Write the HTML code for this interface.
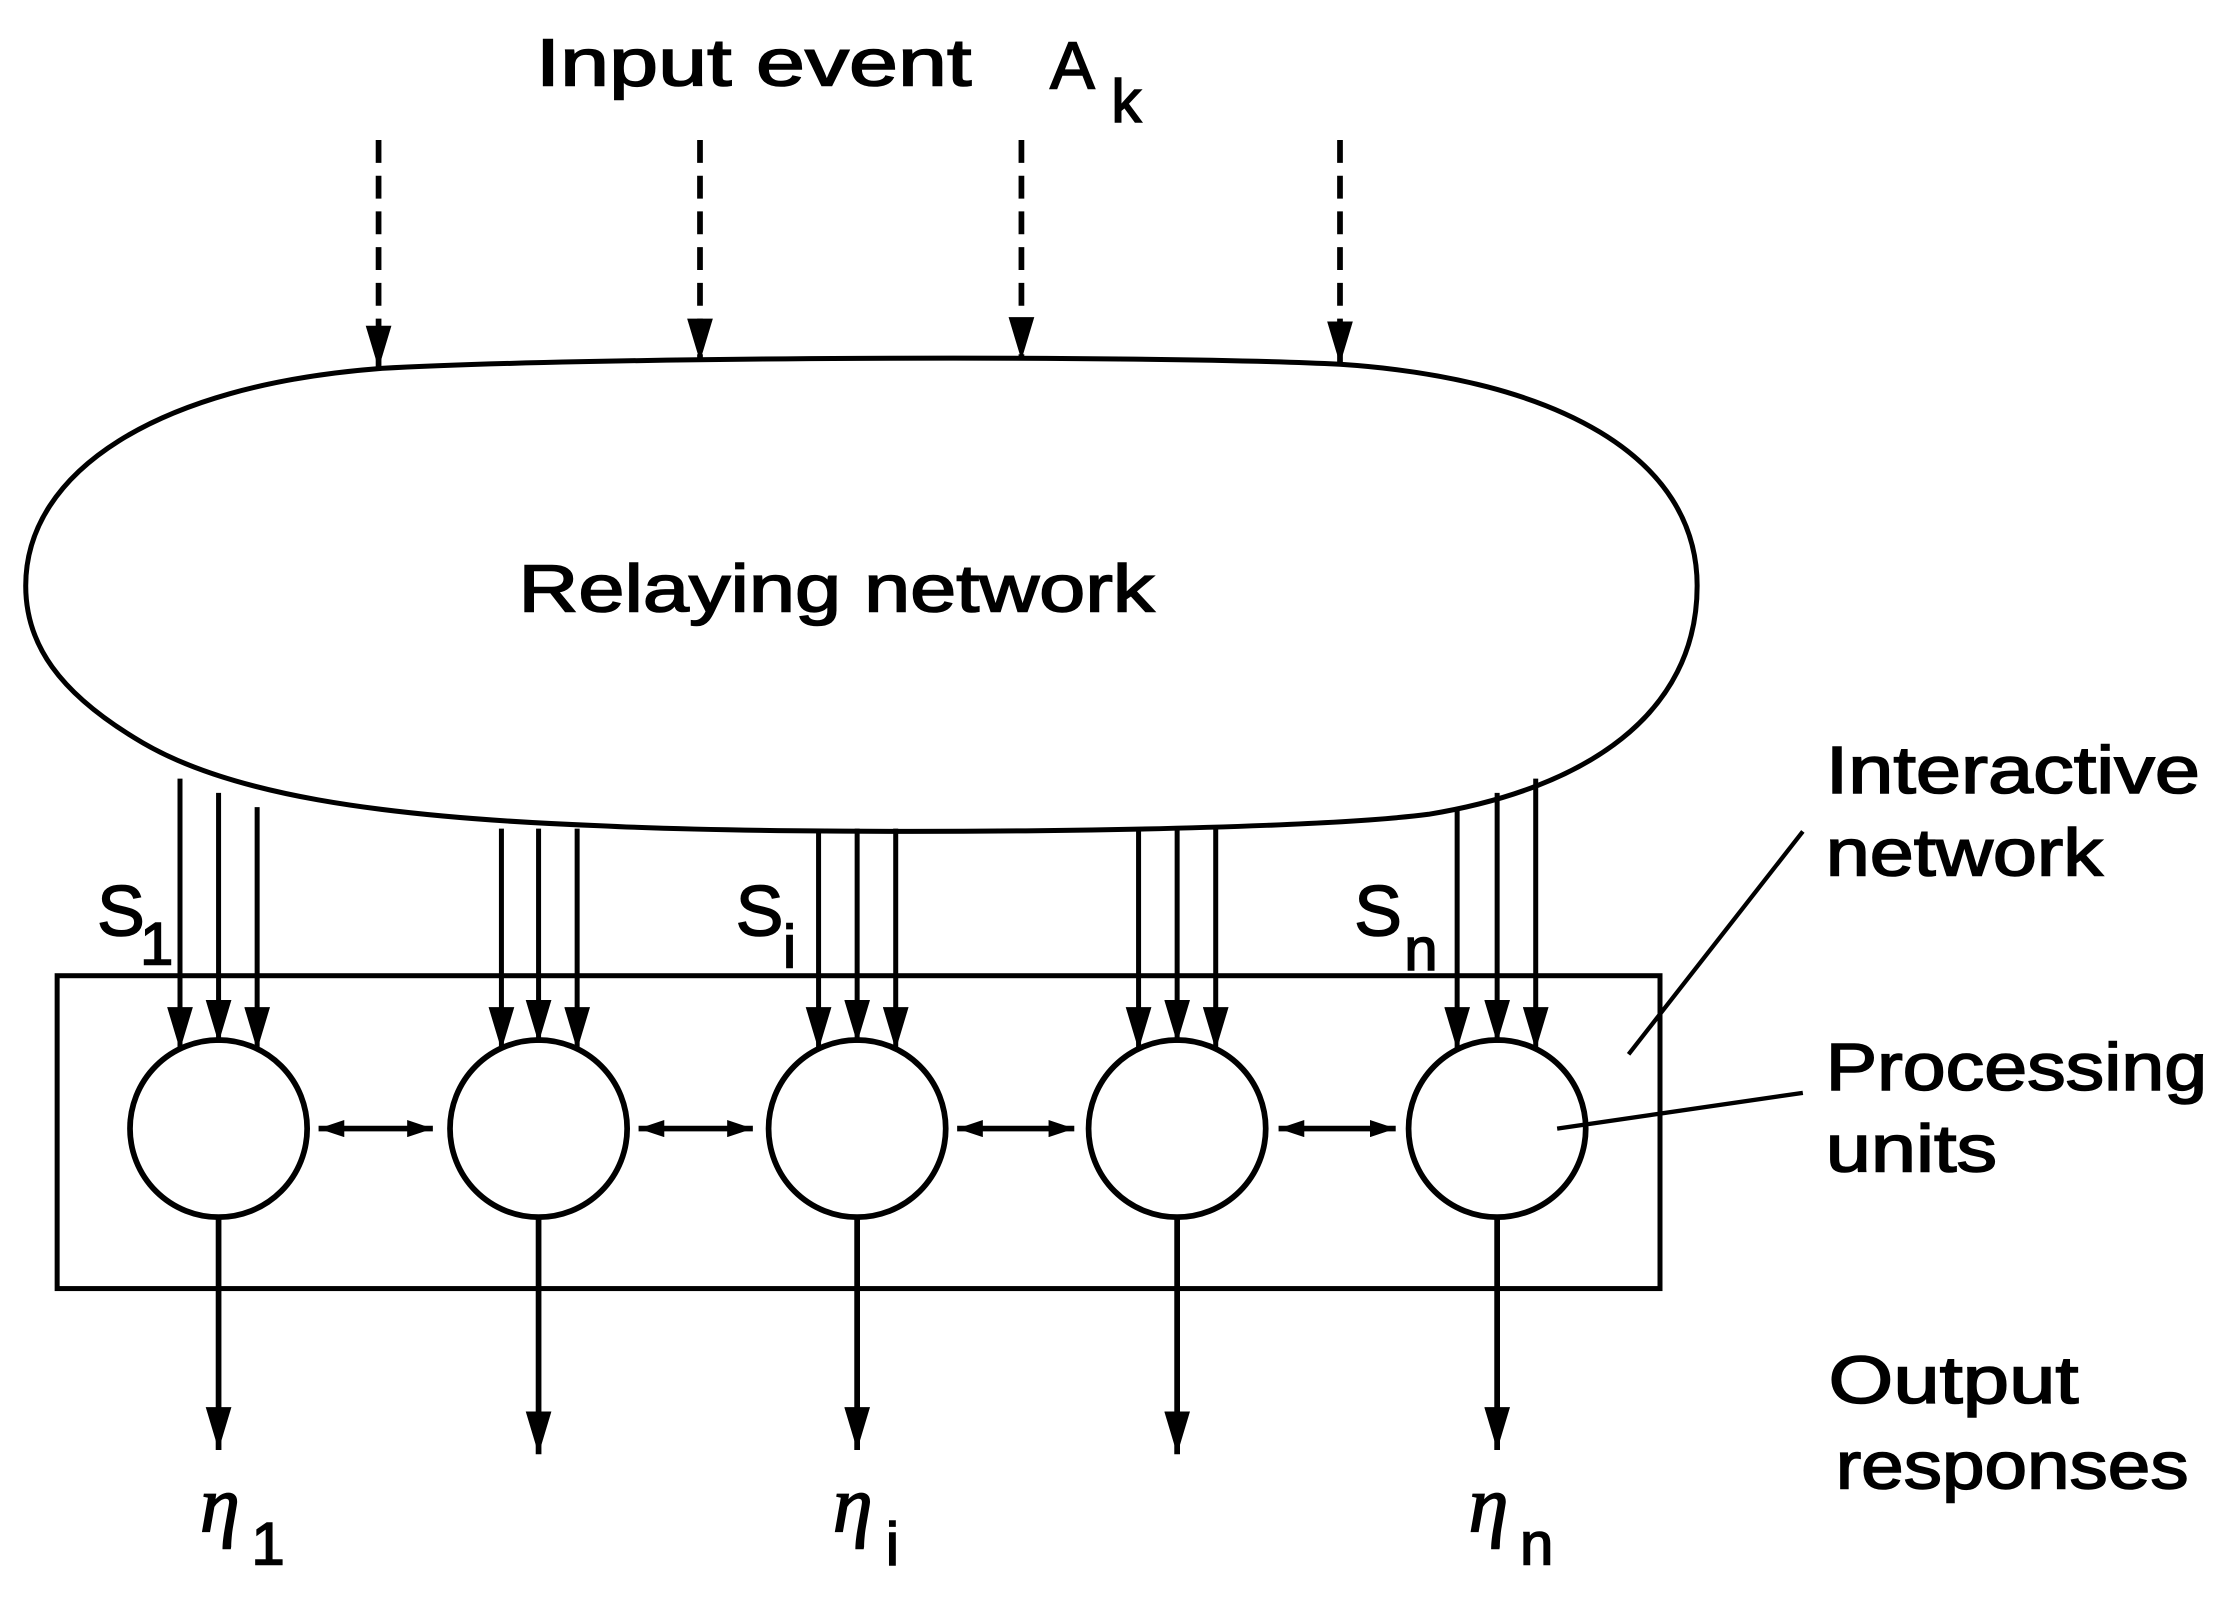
<!DOCTYPE html>
<html><head><style>html,body{margin:0;padding:0;background:#fff}svg{display:block}</style></head>
<body>
<svg width="2240" height="1600" viewBox="0 0 1568 1120" xmlns="http://www.w3.org/2000/svg">
<defs>
<marker id="ahb" markerWidth="30" markerHeight="18" refX="30" refY="9" orient="auto" markerUnits="userSpaceOnUse">
<path d="M0,0 L30,9 L0,18 Z" fill="#000"/></marker>
<marker id="ahs" markerWidth="18" markerHeight="12" refX="18" refY="6" orient="auto-start-reverse" markerUnits="userSpaceOnUse">
<path d="M0,0 L18,6 L0,12 Z" fill="#000"/></marker>
</defs>
<g font-family="Liberation Sans, Arial, sans-serif" font-size="47" fill="#000" stroke="#000" stroke-width="1.1">
<text x="375" y="60" textLength="305" lengthAdjust="spacingAndGlyphs">Input  event</text>
<text x="735" y="62">A</text><text x="778" y="85" font-size="42">k</text>
<text x="363" y="428" textLength="445" lengthAdjust="spacingAndGlyphs">Relaying network</text>
<text x="68" y="655" font-size="50">S</text><text x="98" y="675" font-size="42">1</text>
<text x="515" y="655" font-size="50">S</text><text x="548" y="677" font-size="42">i</text>
<text x="948" y="655" font-size="50">S</text><text x="983" y="679" font-size="42">n</text>
<text x="140" y="1072" font-size="56" font-style="italic" font-family="Liberation Serif, serif">η</text><text x="176" y="1095" font-size="42">1</text>
<text x="583" y="1072" font-size="56" font-style="italic" font-family="Liberation Serif, serif">η</text><text x="620" y="1095" font-size="42">i</text>
<text x="1028" y="1072" font-size="56" font-style="italic" font-family="Liberation Serif, serif">η</text><text x="1064" y="1095" font-size="42">n</text>
<text x="1278" y="555" textLength="262" lengthAdjust="spacingAndGlyphs">Interactive</text>
<text x="1278" y="613" textLength="194" lengthAdjust="spacingAndGlyphs">network</text>
<text x="1278" y="763" textLength="267" lengthAdjust="spacingAndGlyphs">Processing</text>
<text x="1278" y="820" textLength="120" lengthAdjust="spacingAndGlyphs">units</text>
<text x="1280" y="982" textLength="175" lengthAdjust="spacingAndGlyphs">Output</text>
<text x="1285" y="1042" textLength="247" lengthAdjust="spacingAndGlyphs">responses</text>
</g>
<g stroke="#000" stroke-width="4" fill="none">
<g stroke-dasharray="16,9">
<line x1="265" y1="98" x2="265" y2="258" marker-end="url(#ahb)"/>
<line x1="490" y1="98" x2="490" y2="253" marker-end="url(#ahb)"/>
<line x1="715" y1="98" x2="715" y2="252" marker-end="url(#ahb)"/>
<line x1="938" y1="98" x2="938" y2="255" marker-end="url(#ahb)"/>
</g>
<path d="M265,258 C400,250 800,248 938,255 C1090,265 1188,320 1188,410 C1188,500 1110,552 1000,570 C900,583 560,585 420,578 C260,572 160,555 100,520 C40,485 18,450 18,410 C18,330 110,270 265,258 Z" stroke-width="3.5"/>
<rect x="40" y="683" width="1122" height="219" stroke-width="3.5"/>
<g stroke-width="4">
<circle cx="153" cy="790" r="62"/><circle cx="377" cy="790" r="62"/><circle cx="600" cy="790" r="62"/><circle cx="824" cy="790" r="62"/><circle cx="1048" cy="790" r="62"/>
</g>
<g stroke-width="3.5">
<line x1="126" y1="545" x2="126" y2="735" marker-end="url(#ahb)"/>
<line x1="153" y1="555" x2="153" y2="730" marker-end="url(#ahb)"/>
<line x1="180" y1="565" x2="180" y2="735" marker-end="url(#ahb)"/>
<line x1="351" y1="580" x2="351" y2="735" marker-end="url(#ahb)"/>
<line x1="377" y1="580" x2="377" y2="730" marker-end="url(#ahb)"/>
<line x1="404" y1="580" x2="404" y2="735" marker-end="url(#ahb)"/>
<line x1="573" y1="580" x2="573" y2="735" marker-end="url(#ahb)"/>
<line x1="600" y1="580" x2="600" y2="730" marker-end="url(#ahb)"/>
<line x1="627" y1="580" x2="627" y2="735" marker-end="url(#ahb)"/>
<line x1="797" y1="580" x2="797" y2="735" marker-end="url(#ahb)"/>
<line x1="824" y1="580" x2="824" y2="730" marker-end="url(#ahb)"/>
<line x1="851" y1="580" x2="851" y2="735" marker-end="url(#ahb)"/>
<line x1="1020" y1="565" x2="1020" y2="735" marker-end="url(#ahb)"/>
<line x1="1048" y1="555" x2="1048" y2="730" marker-end="url(#ahb)"/>
<line x1="1075" y1="545" x2="1075" y2="735" marker-end="url(#ahb)"/>
</g>
<g stroke-width="4">
<line x1="223" y1="790" x2="303" y2="790" marker-start="url(#ahs)" marker-end="url(#ahs)"/>
<line x1="447" y1="790" x2="527" y2="790" marker-start="url(#ahs)" marker-end="url(#ahs)"/>
<line x1="670" y1="790" x2="752" y2="790" marker-start="url(#ahs)" marker-end="url(#ahs)"/>
<line x1="895" y1="790" x2="977" y2="790" marker-start="url(#ahs)" marker-end="url(#ahs)"/>
<line x1="153" y1="852" x2="153" y2="1015" marker-end="url(#ahb)"/>
<line x1="377" y1="852" x2="377" y2="1018" marker-end="url(#ahb)"/>
<line x1="600" y1="852" x2="600" y2="1015" marker-end="url(#ahb)"/>
<line x1="824" y1="852" x2="824" y2="1018" marker-end="url(#ahb)"/>
<line x1="1048" y1="852" x2="1048" y2="1015" marker-end="url(#ahb)"/>
</g>
<line x1="1140" y1="738" x2="1262" y2="582" stroke-width="3"/>
<line x1="1090" y1="790" x2="1262" y2="765" stroke-width="3"/>
</g>
</svg>
</body></html>
